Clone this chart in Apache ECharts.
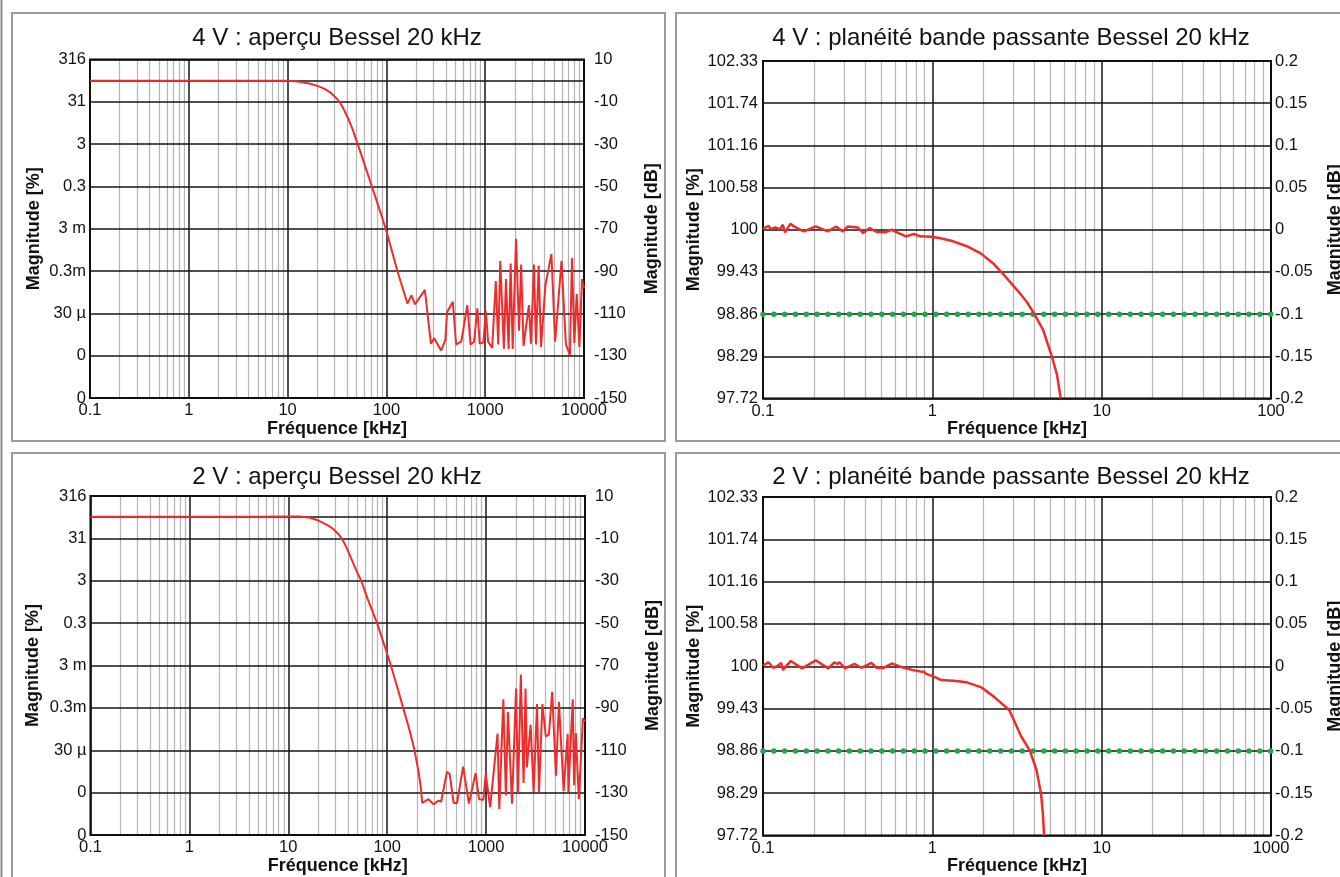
<!DOCTYPE html>
<html><head><meta charset="utf-8">
<script src="https://cdn.jsdelivr.net/npm/echarts@6/dist/echarts.min.js"></script>
<style>html,body{margin:0;padding:0;background:#fff}#c{width:1340px;height:877px}</style>
</head><body><div id="c"></div>
<script>
// ---------- tick labels ----------
const overviewFreqTicks = ['0.1', '1', '10', '100', '1000', '10000'];
const flat4vFreqTicks = ['0.1', '1', '10', '100'];
const flat2vFreqTicks = ['0.1', '1', '10', '1000'];
const overviewDbTicks = [-150, -130, -110, -90, -70, -50, -30, -10, 10];
const overviewGridDb = [-150, -130, -110, -90, -70, -50, -30, -10, 0, 10];
const overviewPctLabels = ['0', '0', '30 µ', '0.3m', '3 m', '0.3', '3', '31', '316'];
const flatDbLabels = ['-0.2', '-0.15', '-0.1', '-0.05', '0', '0.05', '0.1', '0.15', '0.2'];
const flatPctLabels = ['97.72', '98.29', '98.86', '99.43', '100', '100.58', '101.16', '101.74', '102.33'];

// ---------- limit line (flatness panels) ----------
const limitDb = -0.1;
const limitFreq = [0.1, 100];

// ---------- 4 V overview ----------
const freq4vOverview = [0.1, 1, 5, 10, 12, 13.7, 17, 20.4, 24, 27.5, 30.5, 33.6, 37, 41.1, 45.5, 51.2, 61, 71.3, 84, 98.4,
  113, 129, 146, 163, 179, 195, 245, 282, 305, 357, 395, 411, 470, 508, 572, 659, 711, 771, 833, 880,
  959, 1013, 1071, 1176, 1280, 1355, 1420, 1546, 1622, 1726, 1810, 1898, 2052, 2202, 2310, 2443, 2770, 2904, 3117, 3265,
  3476, 3673, 4066, 4236, 4677, 5101, 5919, 6556, 7206, 7551, 7985, 8440, 8984, 9550, 10000];
const db4vOverview = [0, 0, 0, -0.1, -0.3, -0.6, -1.5, -2.6, -4, -5.8, -7.8, -10, -13.5, -18, -23, -30, -40.5, -50, -60, -70,
  -80, -90, -98, -105.3, -101.5, -105.7, -98.9, -124.3, -121.8, -127.5, -122.6, -109.5, -104.5, -124.7, -123.4, -106.1, -124.7, -123.4, -107.6, -124.3,
  -123.8, -108.8, -123.4, -126.3, -94.7, -124.7, -85.3, -126.8, -93.8, -126.8, -86.4, -126.8, -74.7, -118.2, -86.9, -125.4, -106.1, -124.3, -86.9, -124.7,
  -87.4, -125.9, -96.9, -97.3, -81.9, -123.4, -85.3, -124.7, -129.7, -83.8, -124, -100.9, -125.9, -93.8, -98];

// ---------- 2 V overview ----------
const freq2vOverview = [0.1, 1, 5, 10, 13, 16.7, 19.5, 22.5, 25.7, 28.9, 32, 35.3, 39, 43, 48.5, 54.6, 64, 79, 93, 109,
  126, 145, 167, 189, 207, 218, 226, 261, 294, 330, 351, 402, 428, 470, 508, 586, 670, 783, 848, 938,
  991, 1099, 1305, 1359, 1493, 1585, 1663, 1828, 2009, 2105, 2244, 2392, 2506, 2584, 2818, 3025, 3273, 3428, 3707, 4014,
  4311, 4660, 5082, 5453, 5665, 6082, 6683, 6790, 7516, 7766, 8072, 8667, 9528, 10000];
const db2vOverview = [0.2, 0.2, 0.2, 0.3, 0.3, -0.3, -1.3, -2.7, -4.1, -5.8, -7.9, -10.5, -14.6, -19.2, -25, -30, -39, -50, -60, -70,
  -80, -90, -100, -110, -120, -127, -134.9, -133.1, -135.5, -133.8, -134.3, -120.1, -121.2, -134.9, -134.9, -117.7, -135.2, -120.8, -133.1, -133.4,
  -121.2, -136.9, -102.2, -137.8, -86, -131.4, -92, -135.2, -80.9, -130, -74.3, -125.4, -80.9, -118.1, -98, -129.7, -88.2, -129.7, -88.2, -103.4,
  -102.6, -82.4, -122, -87.2, -86.3, -129.2, -102.3, -129.7, -86, -126.5, -101.9, -133.1, -94.9, -96.5];

// ---------- 4 V passband flatness ----------
const freq4vFlat = [0.1, 0.1076, 0.111, 0.118, 0.126, 0.131, 0.135, 0.145, 0.155, 0.174, 0.205, 0.241, 0.270, 0.296, 0.317, 0.364, 0.390, 0.427, 0.469, 0.525,
  0.576, 0.632, 0.699, 0.777, 0.851, 0.978, 1.10, 1.33, 1.60, 1.93, 2.32, 2.73, 3.15, 3.6, 4.01, 4.51, 5.08, 5.45, 5.73];
const db4vFlat = [0.0008, 0.0047, 0.0008, 0.0027, 0.0008, 0.0059, -0.0031, 0.007, 0.0031, -0.002, 0.0039, -0.002, 0.0039, -0.002, 0.0039, 0.0027, -0.0039, 0.002, -0.0027, -0.0031,
  0, -0.0039, -0.0078, -0.005, -0.0078, -0.0082, -0.0097, -0.0137, -0.0195, -0.028, -0.041, -0.0566, -0.0709, -0.085, -0.1, -0.1187, -0.15, -0.172, -0.2];

// ---------- 2 V passband flatness ----------
const freq2vFlat = [0.1, 0.1076, 0.115, 0.121, 0.128, 0.131, 0.146, 0.170, 0.205, 0.243, 0.264, 0.274, 0.283, 0.305, 0.347, 0.381, 0.437, 0.469, 0.513, 0.576,
  0.661, 0.759, 0.851, 0.892, 0.92, 1.03, 1.13, 1.33, 1.60, 1.93, 2.32, 2.85, 3.35, 3.77, 4.12, 4.38, 4.50, 4.57];
const db2vFlat = [0.0008, 0.0047, -0.0018, 0, 0.004, -0.0043, 0.0063, -0.0025, 0.007, -0.0025, 0.0047, 0.0027, 0.0047, -0.0025, 0.0027, -0.0018, 0.004, -0.0018, -0.0018, 0.0032,
  -0.0011, -0.0043, -0.0061, -0.0065, -0.009, -0.0126, -0.0163, -0.017, -0.019, -0.0246, -0.0362, -0.052, -0.083, -0.1, -0.1226, -0.15, -0.175, -0.2];

// ---------- build ----------
const FONT = "'Liberation Sans', Arial, Helvetica, sans-serif";
const TXT = '#111';
const RED = '#ee2c2c';
const GREEN = '#22a84a';

function pairs(xs, ys) { return xs.map((x, i) => [x, ys[i]]); }
function minorValues(minExp, maxExp) {
  const out = [];
  for (let e = minExp; e < maxExp; e++) for (let k = 2; k <= 9; k++) out.push(+(k * Math.pow(10, e)).toPrecision(6));
  return out;
}

const panels = [
  { grid: { left: 90, top: 59.5, width: 494, height: 338.5 }, kind: 'overview', xMin: 0.1, xMax: 10000, xLabels: overviewFreqTicks,
    data: pairs(freq4vOverview, db4vOverview), leftGap: 47, rightGap: 59, leftMargin: 4, rightMargin: 10,
    title: '4 V : aperçu Bessel 20 kHz', tx: 337, ty: 38 },
  { grid: { left: 763, top: 61, width: 508, height: 337.5 }, kind: 'flat', xMin: 0.1, xMax: 100, xLabels: flat4vFreqTicks,
    data: pairs(freq4vFlat, db4vFlat), leftGap: 60, rightGap: 55, leftMargin: 5, rightMargin: 4,
    title: '4 V : planéité bande passante Bessel 20 kHz', tx: 1011, ty: 38 },
  { grid: { left: 90.5, top: 496, width: 494.5, height: 339 }, kind: 'overview', xMin: 0.1, xMax: 10000, xLabels: overviewFreqTicks,
    data: pairs(freq2vOverview, db2vOverview), leftGap: 48, rightGap: 59, leftMargin: 4, rightMargin: 10,
    title: '2 V : aperçu Bessel 20 kHz', tx: 337, ty: 477.5 },
  { grid: { left: 763, top: 497, width: 508, height: 338.5 }, kind: 'flat', xMin: 0.1, xMax: 100, xLabels: flat2vFreqTicks,
    data: pairs(freq2vFlat, db2vFlat), leftGap: 60, rightGap: 55, leftMargin: 5, rightMargin: 4,
    title: '2 V : planéité bande passante Bessel 20 kHz', tx: 1011, ty: 477 }
];

const labelStyle = { fontSize: 16.5, color: TXT, fontFamily: FONT };
const nameStyle = { fontSize: 18, fontWeight: 'bold', color: TXT, fontFamily: FONT };
const majorLine = { color: '#141414', width: 1.5 };

const option = { animation: false, backgroundColor: '#fff', grid: [], xAxis: [], yAxis: [], series: [], graphic: [] };

panels.forEach((p, i) => {
  option.grid.push(Object.assign({ show: true, borderColor: '#000', borderWidth: 2, backgroundColor: 'transparent',
    containLabel: false, outerBoundsMode: 'none' }, p.grid));
  const e0 = Math.round(Math.log10(p.xMin)), e1 = Math.round(Math.log10(p.xMax));
  option.xAxis.push({
    type: 'log', logBase: 10, gridIndex: i, min: p.xMin, max: p.xMax,
    axisLine: { show: false }, axisTick: { show: false },
    splitLine: { show: true, lineStyle: majorLine },
    axisLabel: Object.assign({ margin: 4, formatter: v => p.xLabels[Math.round(Math.log10(v)) - e0] }, labelStyle),
    name: 'Fréquence [kHz]', nameLocation: 'middle', nameGap: 20, nameTextStyle: nameStyle
  });
  let yl, yr;
  if (p.kind === 'overview') {
    const base = { type: 'value', gridIndex: i, min: -150, max: 10, axisLine: { show: false },
      axisTick: { show: false, customValues: overviewGridDb } };
    yl = Object.assign({}, base, { position: 'left',
      axisLabel: Object.assign({ customValues: overviewDbTicks, margin: p.leftMargin,
        formatter: v => overviewPctLabels[overviewDbTicks.indexOf(Math.round(v))] }, labelStyle),
      splitLine: { show: true, lineStyle: majorLine } });
    yr = Object.assign({}, base, { position: 'right',
      axisLabel: Object.assign({ customValues: overviewDbTicks, margin: p.rightMargin, formatter: v => String(Math.round(v)) }, labelStyle),
      splitLine: { show: false } });
  } else {
    const base = { type: 'value', gridIndex: i, min: -0.2, max: 0.2, interval: 0.05, axisLine: { show: false }, axisTick: { show: false } };
    yl = Object.assign({}, base, { position: 'left',
      axisLabel: Object.assign({ margin: p.leftMargin, formatter: v => flatPctLabels[Math.round(v * 20) + 4] }, labelStyle),
      splitLine: { show: true, lineStyle: majorLine } });
    yr = Object.assign({}, base, { position: 'right',
      axisLabel: Object.assign({ margin: p.rightMargin, formatter: v => flatDbLabels[Math.round(v * 20) + 4] }, labelStyle),
      splitLine: { show: false } });
  }
  yl.name = 'Magnitude [%]'; yl.nameLocation = 'middle'; yl.nameGap = p.leftGap; yl.nameTextStyle = nameStyle;
  yr.name = 'Magnitude [dB]'; yr.nameLocation = 'middle'; yr.nameGap = p.rightGap; yr.nameTextStyle = nameStyle;
  option.yAxis.push(yl, yr);
  const yi = 2 * i;

  // minor log grid lines
  option.series.push({
    type: 'line', xAxisIndex: i, yAxisIndex: yi, data: [], z: -1, silent: true,
    markLine: {
      silent: true, z: -1, symbol: ['none', 'none'], label: { show: false }, emphasis: { disabled: true },
      lineStyle: { color: '#b4b4b4', width: 1.2, type: 'solid' }, animation: false,
      data: minorValues(e0, e1).map(v => ({ xAxis: v }))
    }
  });
  if (p.kind === 'flat') {
    option.series.push({
      type: 'line', xAxisIndex: i, yAxisIndex: yi, z: 2, silent: true, showSymbol: false,
      data: pairs(limitFreq, limitFreq.map(() => limitDb)),
      lineStyle: { color: GREEN, width: 5.5, type: [0.1, 10.7], cap: 'round' }
    });
  }
  option.series.push({
    type: 'line', xAxisIndex: i, yAxisIndex: yi, z: 3, silent: true, showSymbol: false,
    data: p.data, lineStyle: { color: RED, width: p.kind === 'flat' ? 2.5 : 2 }
  });

  option.graphic.push({
    type: 'text', x: p.tx, y: p.ty, silent: true,
    style: { text: p.title, font: '24px ' + FONT, fill: TXT, align: 'center', verticalAlign: 'middle' }
  });
});

// panel frames
const frames = [[12, 13, 653, 428], [676, 13, 700, 428], [12, 453, 653, 500], [676, 453, 700, 500]];
frames.forEach(f => option.graphic.push({
  type: 'rect', silent: true, shape: { x: f[0], y: f[1], width: f[2], height: f[3] },
  style: { fill: 'none', stroke: '#9a9a9a', lineWidth: 2 }
}));
option.graphic.push({ type: 'line', silent: true, shape: { x1: 1.5, y1: 0, x2: 1.5, y2: 877 }, style: { stroke: '#8a8a8a', lineWidth: 2 } });

const chart = echarts.init(document.getElementById('c'), null, { renderer: 'canvas' });
chart.setOption(option);
</script></body></html>
